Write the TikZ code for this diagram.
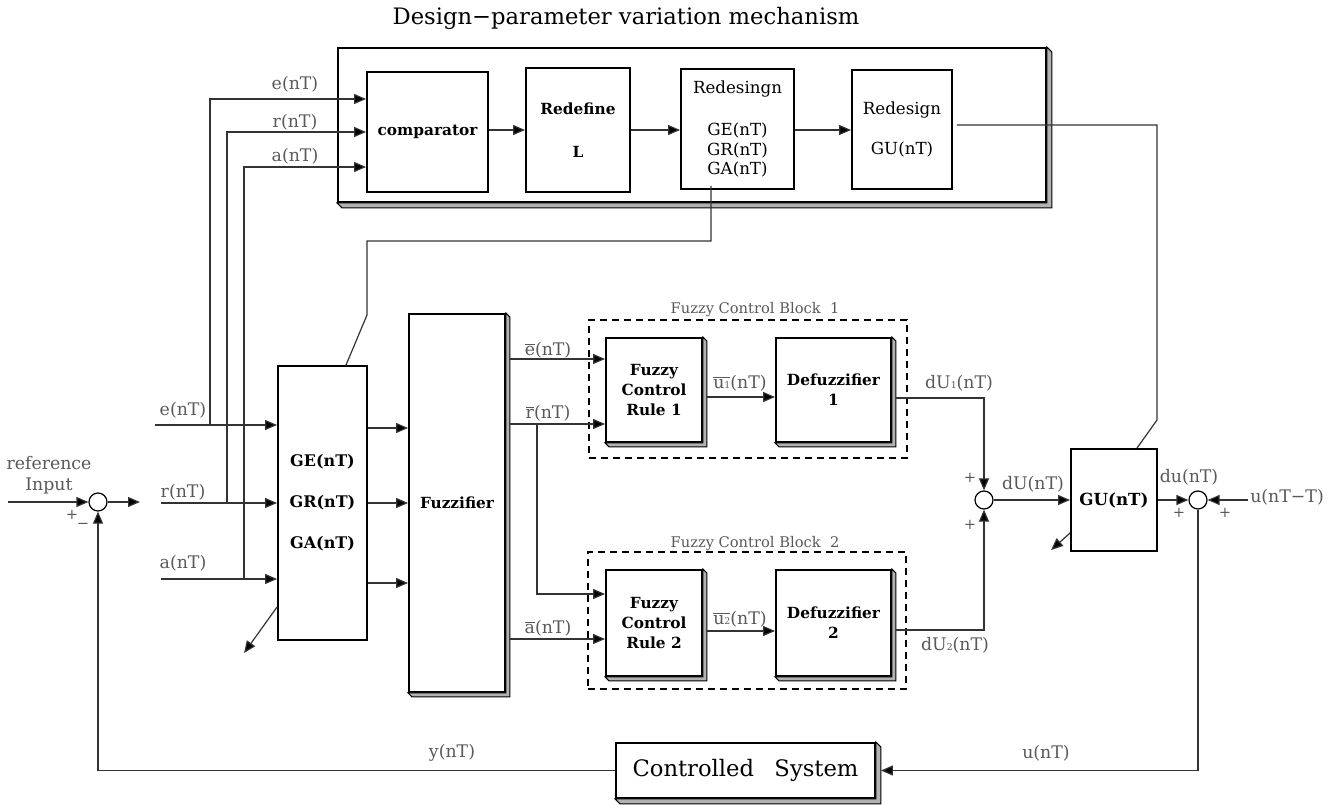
\documentclass[tikz,border=0pt]{standalone}
\usepackage{fontspec}
\setmainfont{DejaVu Serif}
\usetikzlibrary{calc,arrows.meta}
\tikzset{
  line/.style={->, line width=0.9pt, draw=black!80},
  wire/.style={line width=0.9pt, draw=black!80},
  box/.style={draw, line width=1.4pt, fill=white, align=center, inner sep=0pt},
  boldbox/.style={box, font=\fontsize{11.5}{15}\selectfont\bfseries},
  plainbox/.style={box, font=\fontsize{12.5}{14.6}\selectfont},
  groupbox/.style={draw, line width=1.3pt, dash pattern=on 5.5pt off 3.5pt},
  sumnode/.style={draw, circle, line width=0.9pt, fill=white, minimum size=13.5pt, inner sep=0pt},
  lab/.style={text=black!65, font=\fontsize{13}{15}\selectfont, inner sep=0pt},
  sign/.style={lab, font=\fontsize{11}{12}\selectfont}
}
% grey bevel on the right and lower side of a block
\newcommand{\extrude}[2][4]{%
  \filldraw[fill=black!30, line width=0.8pt]
    (#2.north east) -- ++(#1,#1) -- ($(#2.south east)+(#1,#1)$)
    -- ($(#2.south west)+(#1,#1)$) -- (#2.south west) -- (#2.south east) -- cycle;}
\newcommand{\ov}[1]{$\overline{\hbox{#1}}$}

\begin{document}
\begin{tikzpicture}[x=0.75pt, y=-0.75pt, >={Triangle[length=9pt,width=7.5pt,fill=black]}]
  \useasboundingbox (0,0) rectangle (1332,805);

  % Top: design-parameter variation mechanism
  \node[font=\fontsize{17}{20}\selectfont] (title) at (626,18) {Design−parameter variation mechanism};
  \node[box, minimum width=531pt, minimum height=115.5pt] (mech) at (692,125) {};
  \extrude[5]{mech}
  \node[boldbox, minimum width=90.75pt, minimum height=90pt] (comp) at (427.5,132) {comparator};
  \node[boldbox, minimum width=78pt, minimum height=93pt] (redef) at (578,130) {Redefine\\[17pt]L};
  \node[plainbox, minimum width=84.75pt, minimum height=90pt] (redes) at (737.5,129) {Redesingn\\[17pt]GE(nT)\\GR(nT)\\GA(nT)};
  \node[plainbox, minimum width=75pt, minimum height=89.25pt] (regu) at (902,129.5) {Redesign\\[16pt]GU(nT)};
  \draw[line] (comp.east |- redef.west) -- (redef.west);
  \draw[line] (redef.east) -- (redes.west |- redef.east);
  \draw[line] (redes.east |- redef.east) -- (regu.west |- redef.east);

  % Left: summing point and scaling gains
  \node[sumnode] (sum1) at (98,502) {};
  \coordinate (refin) at (8,502);
  \coordinate (sumout) at (140,502);
  \draw[line] (refin) -- (sum1.west);
  \draw[line] (sum1.east) -- (sumout);
  \node[lab, align=center, font=\fontsize{13}{15.75}\selectfont] (refl) at (49,475.5) {reference\\Input};
  \node[sign] (p1) at (72,515) {+};
  \node[sign] (m1) at (83,526) {−};

  \node[boldbox, font=\fontsize{12}{15}\selectfont\bfseries, minimum width=66.75pt, minimum height=205.5pt] (gbox) at (322.5,503) {GE(nT)\\[15.75pt]GR(nT)\\[15.75pt]GA(nT)};
  \coordinate (ein) at (155,425);
  \coordinate (rin) at (161,503);
  \coordinate (ain) at (161,579);
  \draw[line] (ein) -- (gbox.west |- ein);
  \draw[line] (rin) -- (gbox.west |- rin);
  \draw[line] (ain) -- (gbox.west |- ain);
  \node[lab] (el) at (183,410) {e(nT)};
  \node[lab] (rl) at (183,492) {r(nT)};
  \node[lab] (al) at (183,563) {a(nT)};
  \draw[line] ($(ein)+(55,0)$) |- ($(comp.west)+(0,-33)$);
  \draw[line] ($(rin)+(66,0)$) |- (comp.west);
  \draw[line] ($(ain)+(83,0)$) |- ($(comp.west)+(0,35)$);
  \node[lab] (eup) at (295,84) {e(nT)};
  \node[lab] (rup) at (295,122) {r(nT)};
  \node[lab] (aup) at (295,156) {a(nT)};
  \draw[line] ($(gbox.west)+(0,104)$) -- ++(-33,46);
  \draw[wire] ($(redes.south)+(-26.5,-4)$) -- ++(0,55) -| (367,315) -- ($(gbox.north)+(23.5,0)$);

  % Fuzzifier
  \node[boldbox, minimum width=72pt, minimum height=283.5pt] (fuzz) at (457,503) {Fuzzifier};
  \extrude{fuzz}
  \foreach \dy in {-75,0,80}
    \draw[line] ($(gbox.east)+(0,\dy)$) -- ($(fuzz.west)+(0,\dy)$);

  % Fuzzy control blocks
  \node[groupbox, minimum width=238.5pt, minimum height=103.5pt] (blk1) at (748,389) {};
  \node[lab, font=\fontsize{11}{12}\selectfont] (blk1l) at (755,310) {Fuzzy Control Block\ \ 1};
  \node[boldbox, minimum width=72pt, minimum height=78pt] (rule1) at (654,390) {Fuzzy\\Control\\Rule 1};
  \extrude{rule1}
  \node[boldbox, minimum width=86.25pt, minimum height=78pt] (defz1) at (833.5,390) {Defuzzifier\\1};
  \extrude{defz1}

  \node[groupbox, minimum width=238.5pt, minimum height=102.75pt] (blk2) at (747,620.5) {};
  \node[lab, font=\fontsize{11}{12}\selectfont] (blk2l) at (755,544) {Fuzzy Control Block\ \ 2};
  \node[boldbox, minimum width=72pt, minimum height=79.5pt] (rule2) at (654,623) {Fuzzy\\Control\\Rule 2};
  \extrude{rule2}
  \node[boldbox, minimum width=86.25pt, minimum height=79.5pt] (defz2) at (833.5,623) {Defuzzifier\\2};
  \extrude{defz2}

  \draw[line] ($(fuzz.east)+(4,-144)$) -- ($(rule1.west)+(0,-31)$);
  \draw[line] ($(fuzz.east)+(4,-79)$) -- ($(rule1.west)+(0,34)$);
  \draw[line] ($(rule1.west)+(-68,34)$) |- ($(rule2.west)+(0,-29)$);
  \draw[line] ($(fuzz.east)+(4,136)$) -- ($(rule2.west)+(0,16)$);
  \node[lab] (ebar) at (548,350) {\ov{e}(nT)};
  \node[lab] (rbar) at (548,413) {\ov{r}(nT)};
  \node[lab] (abar) at (548,628) {\ov{a}(nT)};
  \draw[line] ($(rule1.east)+(4,7)$) -- ($(defz1.west)+(0,7)$);
  \draw[line] ($(rule2.east)+(4,8)$) -- ($(defz2.west)+(0,8)$);
  \node[lab] (u1l) at (740,383) {\ov{u{\scriptsize 1}}(nT)};
  \node[lab] (u2l) at (740,619) {\ov{u{\scriptsize 2}}(nT)};

  % Right: output gain and incremental output
  \node[sumnode] (sum2) at (984,500) {};
  \node[boldbox, font=\fontsize{12.5}{15}\selectfont\bfseries, minimum width=64.5pt, minimum height=76.5pt] (gu) at (1114,500) {GU(nT)};
  \node[sumnode] (sum3) at (1198,500) {};
  \draw[line] ($(defz1.east)+(4,8)$) -| (sum2.north);
  \draw[line] ($(defz2.east)+(4,7)$) -| (sum2.south);
  \draw[line] (sum2.east) -- (gu.west);
  \draw[line] (gu.east) -- (sum3.west);
  \draw[line] ($(gu.west)+(0,33)$) -- ++(-19,17);
  \draw[wire] ($(regu.east)+(4,-4.5)$) -| (1157,420) -- ($(gu.north)+(23,0)$);
  \coordinate (uprev) at (1248,500);
  \draw[line] (uprev) -- (sum3.east);
  \node[lab] (dU1l) at (959,383) {dU{\scriptsize 1}(nT)};
  \node[lab] (dU2l) at (955,645) {dU{\scriptsize 2}(nT)};
  \node[lab] (dUl) at (1033,484) {dU(nT)};
  \node[lab] (dul) at (1189,477) {du(nT)};
  \node[lab, anchor=west] (uprevl) at (1250,497) {u(nT−T)};
  \node[sign] (p2) at (970,478) {+};
  \node[sign] (p3) at (970,525) {+};
  \node[sign] (p4) at (1179,513) {+};
  \node[sign] (p5) at (1225,513) {+};

  % Bottom: plant and feedback
  \node[box, font=\fontsize{17}{19}\selectfont, minimum width=194.25pt, minimum height=41.25pt] (plant) at (745.5,770.5) {Controlled\hspace{0.9em}System};
  \extrude[5]{plant}
  \draw[line] (sum3.south) |- ($(plant.east)+(5,0)$);
  \draw[line] (plant.west) -| (sum1.south);
  \node[lab] (yl) at (452,753) {y(nT)};
  \node[lab] (ul) at (1046,753) {u(nT)};
\end{tikzpicture}
\end{document}
